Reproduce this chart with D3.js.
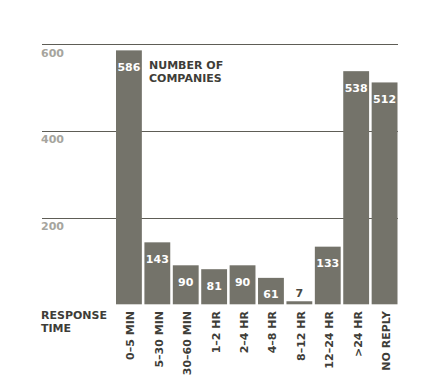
<!DOCTYPE html>
<html>
<head>
<meta charset="utf-8">
<script src="https://cdn.jsdelivr.net/npm/d3@7"></script>
<style>
  body { margin: 0; background: #fff; }
  text { font-family: "DejaVu Sans", sans-serif; font-weight: bold; }
</style>
</head>
<body>
<div id="chart"></div>
<script>
// data
const categories = ["0–5 MIN", "5–30 MIN", "30–60 MIN", "1–2 HR", "2–4 HR", "4–8 HR", "8–12 HR", "12–24 HR", ">24 HR", "NO REPLY"];
const companies = [586, 143, 90, 81, 90, 61, 7, 133, 538, 512];
const yTicks = [200, 400, 600];

const width = 442, height = 384;
const barColor = "#74736a";

const svg = d3.select("#chart").append("svg")
    .attr("width", width)
    .attr("height", height);

const x = d3.scaleBand()
    .domain(categories)
    .range([116, 397.5])
    .paddingInner(0.09)
    .paddingOuter(0);

const y = d3.scaleLinear()
    .domain([0, 600])
    .range([304.3, 44.3]);

// gridlines + tick labels
const grid = svg.append("g");
grid.selectAll("line")
  .data(yTicks)
  .join("line")
    .attr("x1", 42)
    .attr("x2", 398)
    .attr("y1", d => Math.round(y(d)) + 0.5)
    .attr("y2", d => Math.round(y(d)) + 0.5)
    .attr("stroke", "#5e5d56")
    .attr("stroke-width", 1);

grid.selectAll("text")
  .data(yTicks)
  .join("text")
    .attr("x", 41)
    .attr("y", d => y(d) + 12.5)
    .attr("fill", "#a6a59e")
    .attr("font-size", 11)
    .text(d => d);

// bars
const data = categories.map((c, i) => ({cat: c, value: companies[i]}));

svg.append("g")
  .selectAll("rect")
  .data(data)
  .join("rect")
    .attr("x", d => x(d.cat))
    .attr("y", d => y(d.value))
    .attr("width", x.bandwidth())
    .attr("height", d => y(0) - y(d.value))
    .attr("fill", barColor);

// value labels (inside bar, or above when the bar is too short)
svg.append("g")
  .selectAll("text")
  .data(data)
  .join("text")
    .attr("x", d => x(d.cat) + x.bandwidth() / 2)
    .attr("y", d => d.value < 20 ? y(d.value) - 4.5 : y(d.value) + 20.5)
    .attr("text-anchor", "middle")
    .attr("font-size", 11)
    .attr("fill", d => d.value < 20 ? "#4a4943" : "#fff")
    .text(d => d.value);

// category labels, rotated
svg.append("g")
  .selectAll("text")
  .data(categories)
  .join("text")
    .attr("transform", d => `translate(${x(d) + x.bandwidth() / 2 + 5.5},311) rotate(-90)`)
    .attr("text-anchor", "end")
    .attr("font-size", 11)
    .attr("fill", "#3e3d38")
    .text(d => d);

// series note and axis title
const note = svg.append("text")
    .attr("x", 149)
    .attr("font-size", 11)
    .attr("fill", "#3e3d38");
note.append("tspan").attr("x", 149).attr("y", 69).text("NUMBER OF");
note.append("tspan").attr("x", 149).attr("y", 81.5).text("COMPANIES");

const title = svg.append("text")
    .attr("font-size", 11)
    .attr("fill", "#3e3d38");
title.append("tspan").attr("x", 41).attr("y", 319).text("RESPONSE");
title.append("tspan").attr("x", 41).attr("y", 331.5).text("TIME");
</script>
</body>
</html>
